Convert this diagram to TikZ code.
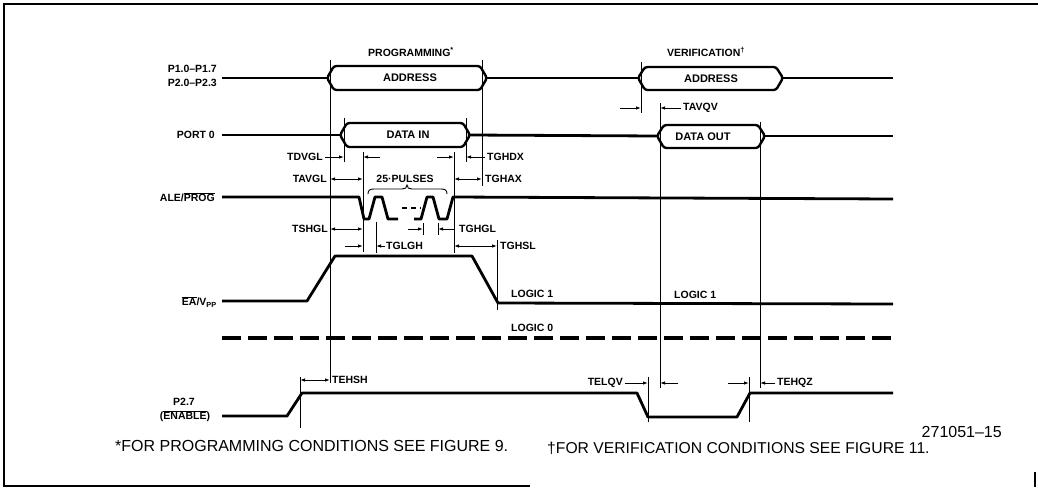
\documentclass[tikz,border=0pt]{standalone}
\usepackage{fontspec}
\setmainfont{Liberation Sans}
\usetikzlibrary{arrows.meta}
\newcommand\myovl[1]{\ensuremath{\overline{\hbox{#1}}}}
\begin{document}
\begin{tikzpicture}[x=1pt,y=-1pt,
  sig/.style={line width=2.8pt, line join=round},
  bus/.style={line width=2.4pt, rounded corners=2.5pt},
  tick/.style={line width=0.9pt},
  tarr/.style={line width=0.9pt,-{Latex[length=5pt,width=3.5pt]}},
  darr/.style={line width=0.9pt,{Latex[length=5pt,width=3.5pt]}-{Latex[length=5pt,width=3.5pt]}},
  lab/.style={font=\fontsize{10.5}{12}\selectfont\bfseries, inner sep=0pt},
  blab/.style={font=\fontsize{11}{13}\selectfont\bfseries, inner sep=0pt},
  foot/.style={font=\fontsize{16}{18}\selectfont, inner sep=0pt},
]
\useasboundingbox (0,0) rectangle (1038,488);
% frame
\draw[line width=1.8pt] (1038,4) -- (4,4) -- (4,486) -- (530,486);
\draw[line width=1.2pt] (1035,472) -- (1035,487);

% ---- P1 / P2 address bus
\draw[sig] (222,78) -- (327,78);
\draw[bus] (327,78) -- (334,66) -- (480,66) -- (487,78) -- (480,90) -- (334,90) -- cycle;
\draw[sig] (487,78) -- (638,78);
\draw[bus] (638,78) -- (645,67) -- (776,67) -- (783,78) -- (776,90) -- (645,90) -- cycle;
\draw[sig] (783,78) -- (893,78);

% ---- PORT 0
\draw[sig] (222,135) -- (340,135);
\draw[bus] (340,135) -- (347,123) -- (463,123) -- (470,135) -- (463,147) -- (347,147) -- cycle;
\draw[sig] (470,135) -- (657,136);
\draw[bus] (657,136) -- (664,125) -- (758,125) -- (765,136) -- (758,148) -- (664,148) -- cycle;
\draw[sig] (765,136) -- (893,136);

% ---- ALE/PROG
\draw[sig] (222,197) -- (359,197) -- (364,219) -- (369,219) -- (375,197) -- (382,197) -- (388,219) -- (398,219);
\draw[sig, dash pattern=on 5pt off 4pt] (402,208) -- (421,208);
\draw[sig] (414,219) -- (421,219) -- (427,197) -- (433,197) -- (439,219) -- (447,219) -- (453,197) -- (893,199);

% ---- EA/VPP
\draw[sig] (222,301) -- (307,301) -- (335,256) -- (472,256) -- (498,303) -- (893,304);
\draw[line width=3.2pt, dash pattern=on 19pt off 7pt] (222,338) -- (893,338);

% ---- P2.7
\draw[sig] (222,416) -- (287,416) -- (302,393) -- (637,393) -- (648,417) -- (737,417) -- (750,393) -- (893,393);

% ---- timing reference lines
\draw[tick] (330,60) -- (330,383);
\draw[tick] (482,60) -- (482,186);
\draw[tick] (344,118) -- (344,162);
\draw[tick] (466,118) -- (466,162);
\draw[tick] (363,152) -- (363,252);
\draw[tick] (454,152) -- (454,253);
\draw[tick] (376,222) -- (376,253);
\draw[tick] (423,223) -- (423,235);
\draw[tick] (438,223) -- (438,235);
\draw[tick] (497,240) -- (497,310);
\draw[tick] (300,377) -- (300,428);
\draw[tick] (641,62) -- (641,113);
\draw[tick] (660,103) -- (660,388);
\draw[tick] (760,122) -- (760,388);
\draw[tick] (648,377) -- (648,422);
\draw[tick] (749,377) -- (749,422);

% ---- timing arrows
\draw[tarr] (325,157) -- (344,157);
\draw[tarr] (380,157) -- (363,157);
\draw[tarr] (437,157) -- (454,157);
\draw[tarr] (485,157) -- (466,157);
\draw[darr] (330,179) -- (363,179);
\draw[darr] (454,179) -- (482,179);
\draw[darr] (330,229) -- (363,229);
\draw[tarr] (408,229) -- (423,229);
\draw[tarr] (455,229) -- (438,229);
\draw[tarr] (345,246) -- (363,246);
\draw[tarr] (385,246) -- (376,246);
\draw[darr] (454,246) -- (497,246);
\draw[tarr] (620,108) -- (641,108);
\draw[tarr] (681,108) -- (660,108);
\draw[darr] (300,380) -- (330,380);
\draw[tarr] (625,383) -- (648,383);
\draw[tarr] (678,383) -- (660,383);
\draw[tarr] (728,383) -- (749,383);
\draw[tarr] (775,383) -- (760,383);

% brace over pulses
\draw[line width=0.9pt] (368,194) .. controls (368,190) and (370,189) .. (374,189) -- (402,189)
  .. controls (405,189) and (407,188) .. (407,185) .. controls (407,188) and (409,189) .. (412,189)
  -- (441,189) .. controls (445,189) and (447,190) .. (447,194);

% ---- texts
\node[lab] (tprog) at (411,52) {PROGRAMMING\textsuperscript{*}};
\node[lab] (tver) at (706,52) {VERIFICATION\textsuperscript{†}};
\node[blab] (taddr1) at (410,78) {ADDRESS};
\node[blab] (taddr2) at (711,79) {ADDRESS};
\node[blab] (tdin) at (408,135) {DATA IN};
\node[blab] (tdout) at (703,137) {DATA OUT};

\node[lab, anchor=east] (lp1) at (217,69) {P1.0--P1.7};
\node[lab, anchor=east] (lp2) at (217,83) {P2.0--P2.3};
\node[lab, anchor=east] (lp0) at (215,135) {PORT 0};
\node[lab, anchor=east] (lale) at (215,197) {ALE/\myovl{PROG}};
\node[lab, anchor=east] (lea) at (217,302) {\myovl{EA}/V\textsubscript{PP}};
\node[lab] (lp27) at (184,402) {P2.7};
\node[lab] (len) at (185,416) {(\myovl{ENABLE})};

\node[lab, anchor=east] (tdvgl) at (323,157) {TDVGL};
\node[lab, anchor=west] (tghdx) at (487,157) {TGHDX};
\node[lab, anchor=east] (tavgl) at (327,179) {TAVGL};
\node[lab] (tpul) at (405,179) {25·PULSES};
\node[lab, anchor=west] (tghax) at (485,179) {TGHAX};
\node[lab, anchor=east] (tshgl) at (328,229) {TSHGL};
\node[lab, anchor=west] (tghgl) at (459,229) {TGHGL};
\node[lab, anchor=west] (tglgh) at (386,246) {TGLGH};
\node[lab, anchor=west] (tghsl) at (500,246) {TGHSL};
\node[lab, anchor=west] (tl1a) at (511,294) {LOGIC 1};
\node[lab, anchor=west] (tl0) at (511,328) {LOGIC 0};
\node[lab, anchor=west] (tl1b) at (674,295) {LOGIC 1};
\node[lab, anchor=west] (tavqv) at (683,108) {TAVQV};
\node[lab, anchor=west] (tehsh) at (332,380) {TEHSH};
\node[lab, anchor=east] (telqv) at (623,383) {TELQV};
\node[lab, anchor=west] (tehqz) at (777,383) {TEHQZ};

\node[foot, anchor=west] (fn1) at (115,446) {*FOR PROGRAMMING CONDITIONS SEE FIGURE 9.};
\node[foot, anchor=west, font=\fontsize{15.7}{18}\selectfont] (fn2) at (547,448) {†FOR VERIFICATION CONDITIONS SEE FIGURE 11.};
\node[foot, anchor=east] (fnum) at (1002,432) {271051--15};
\end{tikzpicture}
\end{document}
